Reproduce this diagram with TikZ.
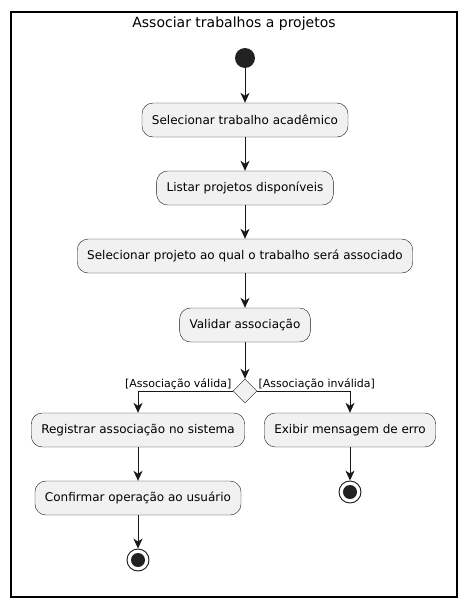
\documentclass[tikz,border=0pt]{standalone}
\usepackage{fontspec}
\setmainfont{DejaVu Sans}
\usepackage{xcolor}
\usetikzlibrary{arrows.meta, shapes.geometric}
\definecolor{boxfill}{HTML}{F1F1F1}
\definecolor{lineclr}{HTML}{181818}
\definecolor{dotclr}{HTML}{222222}

\begin{document}
\begin{tikzpicture}[x=1pt, y=-1pt,
    acao/.style={draw=lineclr, fill=boxfill, rounded corners=11pt, minimum height=34pt, inner xsep=10pt, font=\fontsize{12}{14}\selectfont},
    fluxo/.style={draw=lineclr, line width=0.9pt, -{Stealth[length=10pt, width=9pt, inset=3pt]}},
    rotulo/.style={font=\fontsize{11}{13}\selectfont, inner sep=1pt}]
       \useasboundingbox (0,0) rectangle (466,608);
       % moldura
       \draw[line width=1.2pt] (11,12) rectangle (457,597);
       \node[font=\fontsize{14}{16}\selectfont, anchor=base] (titulo) at (234,27.5) {Associar trabalhos a projetos};
       % inicio
       \node[circle, fill=dotclr, minimum size=20pt, inner sep=0pt] (inicio) at (245,58) {};
       \node[acao] (sel) at (245,120) {Selecionar trabalho acadêmico};
       \node[acao] (lst) at (245,188) {Listar projetos disponíveis};
       \node[acao] (proj) at (245,256) {Selecionar projeto ao qual o trabalho será associado};
       \node[acao] (val) at (245,325) {Validar associação};
       \node[diamond, draw=lineclr, fill=boxfill, minimum size=24pt, inner sep=0pt] (dec) at (245,391) {};
       \node[acao] (reg) at (138,430) {Registrar associação no sistema};
       \node[acao] (erro) at (350,430) {Exibir mensagem de erro};
       \node[acao] (conf) at (138,498) {Confirmar operação ao usuário};
       % fins
       \node[circle, draw=lineclr, line width=0.9pt, fill=white, minimum size=22pt, inner sep=0pt] (fimA) at (138,560) {};
       \node[circle, fill=dotclr, minimum size=14pt, inner sep=0pt] at (fimA) {};
       \node[circle, draw=lineclr, line width=0.9pt, fill=white, minimum size=22pt, inner sep=0pt] (fimB) at (350,492) {};
       \node[circle, fill=dotclr, minimum size=14pt, inner sep=0pt] at (fimB) {};
       % setas
       \draw[fluxo] (inicio) -- (sel);
       \draw[fluxo] (sel) -- (lst);
       \draw[fluxo] (lst) -- (proj);
       \draw[fluxo] (proj) -- (val);
       \draw[fluxo] (val) -- (dec);
       \draw[fluxo] (dec.west) node[rotulo, anchor=south east] {[Associação válida]} -| (reg.north);
       \draw[fluxo] (dec.east) node[rotulo, anchor=south west] {[Associação inválida]} -| (erro.north);
       \draw[fluxo] (reg) -- (conf);
       \draw[fluxo] (conf) -- (fimA);
       \draw[fluxo] (erro) -- (fimB);
\end{tikzpicture}
\end{document}
